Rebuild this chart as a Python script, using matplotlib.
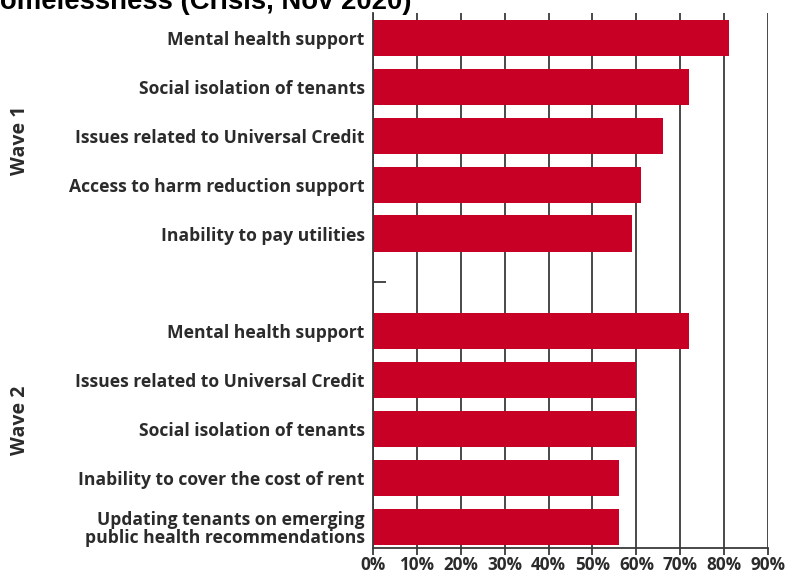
import matplotlib
matplotlib.use('Agg')
import matplotlib.pyplot as plt
import numpy as np

# Data
wave1_labels = ['Mental health support', 'Social isolation of tenants',
                'Issues related to Universal Credit', 'Access to harm reduction support',
                'Inability to pay utilities']
wave1_values = [81, 72, 66, 61, 59]

wave2_labels = ['Mental health support', 'Issues related to Universal Credit',
                'Social isolation of tenants', 'Inability to cover the cost of rent',
                'Updating tenants on emerging\npublic health recommendations']
wave2_values = [72, 60, 60, 56, 56]

x_ticks = [0, 10, 20, 30, 40, 50, 60, 70, 80, 90]

BAR_COLOR = '#C80025'
GRID_COLOR = '#3a3a3a'
TEXT_COLOR = '#2b2b2b'

labels = wave1_labels + [''] + wave2_labels
values = wave1_values + [np.nan] + wave2_values
pos = np.arange(len(labels))

fig = plt.figure(figsize=(7.88, 5.74), dpi=100)
ax = fig.add_axes([0.4734, 0.0453, 0.5013, 0.9321])

ax.barh(pos, values, height=0.74, color=BAR_COLOR, zorder=2)
ax.set_axisbelow(True)

ax.set_xlim(0, 90)
ax.set_ylim(10.43, -0.51)
ax.set_xticks(x_ticks)
ax.set_xticklabels([f'{t}%' for t in x_ticks], fontsize=12.3, fontweight='bold',
                   color=TEXT_COLOR, family='Open Sans')
ax.set_yticks(pos)
ax.set_yticklabels(labels, fontsize=12.6, fontweight='bold', color=TEXT_COLOR,
                   family='Open Sans', linespacing=1.0)

ax.grid(axis='x', color=GRID_COLOR, linewidth=1.3)
ax.tick_params(axis='y', direction='in', length=9, width=1.3, color=GRID_COLOR, pad=6)
ax.tick_params(axis='x', direction='out', length=5, width=1.3, color=GRID_COLOR, pad=1)

for side in ['top', 'right']:
    ax.spines[side].set_visible(False)
for side in ['left', 'bottom']:
    ax.spines[side].set_color(GRID_COLOR)
    ax.spines[side].set_linewidth(1.3)

fig.text(0.026, 0.756, 'Wave 1', rotation=90, ha='center', va='center',
         fontsize=14, fontweight='bold', color=TEXT_COLOR, family='Open Sans')
fig.text(0.026, 0.268, 'Wave 2', rotation=90, ha='center', va='center',
         fontsize=14, fontweight='bold', color=TEXT_COLOR, family='Open Sans')

# title cropped at the top of the original screenshot
fig.text(0.522, 1 - 9 / 574, 'Homelessness (Crisis, Nov 2020)', ha='right', va='baseline',
         fontsize=19.8, fontweight='bold', color='black', family='Liberation Sans')

plt.savefig('out.png', dpi=100)
